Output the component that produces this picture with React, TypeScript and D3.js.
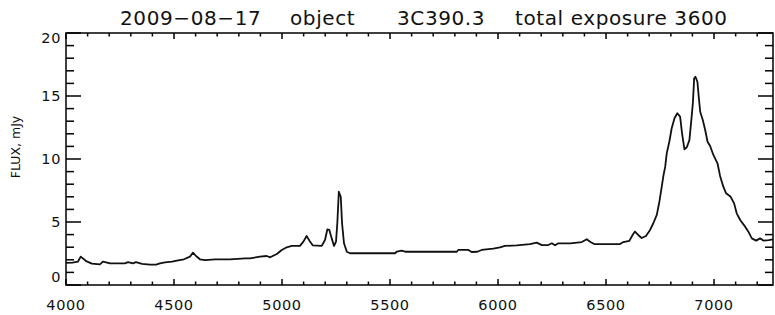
import React from 'react';
import * as d3 from 'd3';

// wavelength (A) and flux (mJy)
const wave = [
  4000, 4030, 4055, 4068, 4093, 4120, 4157, 4171, 4204, 4273, 4287, 4310, 4324, 4352, 4389, 4417,
  4435, 4458, 4491, 4519, 4546, 4574, 4588, 4602, 4620, 4644, 4690, 4759, 4829, 4852, 4898, 4929,
  4945, 4976, 4999, 5022, 5045, 5083, 5099, 5114, 5127, 5142, 5184, 5199, 5210, 5219, 5230, 5241,
  5250, 5256, 5263, 5272, 5278, 5287, 5300, 5315, 5423, 5523, 5531, 5554, 5570, 5809, 5816, 5863,
  5878, 5904, 5924, 5978, 6009, 6032, 6087, 6148, 6179, 6203, 6233, 6249, 6264, 6279, 6334, 6388,
  6411, 6426, 6445, 6565, 6580, 6608, 6623, 6634, 6650, 6665, 6685, 6704, 6719, 6735, 6747, 6758,
  6766, 6774, 6781, 6793, 6804, 6817, 6830, 6843, 6852, 6863, 6874, 6886, 6895, 6902, 6908, 6914,
  6923, 6930, 6936, 6948, 6959, 6970, 6982, 6997, 7016, 7028, 7043, 7056, 7077, 7093, 7105, 7121,
  7144, 7159, 7175, 7195, 7213, 7230, 7253, 7273,
];
const flux = [
  1.75, 1.78, 1.85, 2.25, 1.9, 1.7, 1.64, 1.85, 1.72, 1.72, 1.82, 1.72, 1.82, 1.67, 1.61, 1.61,
  1.72, 1.8, 1.85, 1.96, 2.04, 2.25, 2.57, 2.3, 2.04, 1.98, 2.04, 2.04, 2.12, 2.12, 2.25, 2.3,
  2.2, 2.46, 2.78, 2.99, 3.1, 3.1, 3.44, 3.89, 3.52, 3.15, 3.1, 3.57, 4.42, 4.37, 3.7, 3.1,
  3.44, 4.9, 7.4, 7.0, 4.9, 3.31, 2.64, 2.52, 2.52, 2.52, 2.64, 2.72, 2.64, 2.64, 2.78, 2.78,
  2.62, 2.64, 2.78, 2.88, 2.99, 3.1, 3.15, 3.25, 3.36, 3.17, 3.17, 3.31, 3.15, 3.31, 3.31, 3.41,
  3.63, 3.44, 3.25, 3.25, 3.41, 3.5, 3.97, 4.24, 3.95, 3.73, 3.89, 4.37, 4.9, 5.56, 6.61, 7.8,
  8.7, 9.39, 10.45, 11.37, 12.44, 13.23, 13.63, 13.36, 12.04, 10.77, 10.93, 11.5, 13.1, 14.42, 16.4, 16.53,
  16.13, 14.8, 13.75, 13.1, 12.3, 11.37, 11.03, 10.32, 9.66, 8.66, 7.8, 7.28, 7.0, 6.48, 5.69, 5.16,
  4.63, 4.23, 3.7, 3.52, 3.7, 3.52, 3.57, 3.63,
];

const xMajor = [4000, 4500, 5000, 5500, 6000, 6500, 7000];
const yMajor = [0, 5, 10, 15, 20];

const titleDate = '2009\u221208\u221217';
const titleObj = 'object';
const titleName = '3C390.3';
const titleExp = 'total exposure 3600';
const yTitle = 'FLUX, mJy';

const W = 775, H = 315;
const m = { left: 66, right: 2, top: 33, bottom: 30 };

export default function App() {
  const x = d3.scaleLinear().domain([4000, 7273]).range([m.left, W - m.right]);
  const y = d3.scaleLinear().domain([0, 20]).range([H - m.bottom, m.top]);
  const pts: [number, number][] = wave.map((w, i) => [w, flux[i]]);
  const line = d3.line<[number, number]>().x(d => x(d[0])).y(d => y(d[1]));

  const xMinor = d3.range(4100, 7273, 100).filter(v => v % 500 !== 0);
  const yMinor = d3.range(1, 20, 1).filter(v => v % 5 !== 0);
  const x0 = m.left, x1 = W - m.right, y0 = H - m.bottom, y1 = m.top;
  const font = 'DejaVu Sans, sans-serif';

  const yLabelDy = (v: number) => (v === 0 ? -1 : v === 20 ? 12 : 7);

  return (
    <svg width={W} height={H} style={{ position: 'absolute', left: 0, top: 0, background: '#fff' }}>
      <defs>
        <clipPath id="plot">
          <rect x={x0} y={y1} width={x1 - x0} height={y0 - y1} />
        </clipPath>
      </defs>
      <g stroke="#000" strokeWidth={1.5}>
        {xMajor.map(v => (
          <g key={'xm' + v}>
            <line x1={x(v)} x2={x(v)} y1={y0} y2={y0 - 6} />
            <line x1={x(v)} x2={x(v)} y1={y1} y2={y1 + 6} />
          </g>
        ))}
        {xMinor.map(v => (
          <g key={'xn' + v}>
            <line x1={x(v)} x2={x(v)} y1={y0} y2={y0 - 3.5} />
            <line x1={x(v)} x2={x(v)} y1={y1} y2={y1 + 3.5} />
          </g>
        ))}
        {yMajor.map(v => (
          <g key={'ym' + v}>
            <line x1={x0} x2={x0 + 15} y1={y(v)} y2={y(v)} />
            <line x1={x1} x2={x1 - 15} y1={y(v)} y2={y(v)} />
          </g>
        ))}
        {yMinor.map(v => (
          <g key={'yn' + v}>
            <line x1={x0} x2={x0 + 8} y1={y(v)} y2={y(v)} />
            <line x1={x1} x2={x1 - 8} y1={y(v)} y2={y(v)} />
          </g>
        ))}
        <rect x={x0} y={y1} width={x1 - x0} height={y0 - y1} fill="none" />
      </g>
      <path d={line(pts) || ''} fill="none" stroke="#111" strokeWidth={1.8} strokeLinejoin="round" clipPath="url(#plot)" />
      <g fontFamily={font} fontSize={14.5} fill="#111">
        {xMajor.map(v => (
          <text key={'xl' + v} x={x(v)} y={310} textAnchor="middle" letterSpacing={0.6}>{v}</text>
        ))}
        {yMajor.map(v => (
          <text key={'yl' + v} x={61} y={y(v) + yLabelDy(v) - 2} textAnchor="end" letterSpacing={0.6}>{v}</text>
        ))}
      </g>
      <text transform="translate(20,147) rotate(-90)" textAnchor="middle" fontFamily={font} fontSize={12.5} fill="#111">{yTitle}</text>
      <g fontFamily={font} fontSize={20} fill="#111" letterSpacing={0.6}>
        <text x={120} y={25}>{titleDate}</text>
        <text x={290} y={25}>{titleObj}</text>
        <text x={397} y={25}>{titleName}</text>
        <text x={515} y={25}>{titleExp}</text>
      </g>
    </svg>
  );
}
